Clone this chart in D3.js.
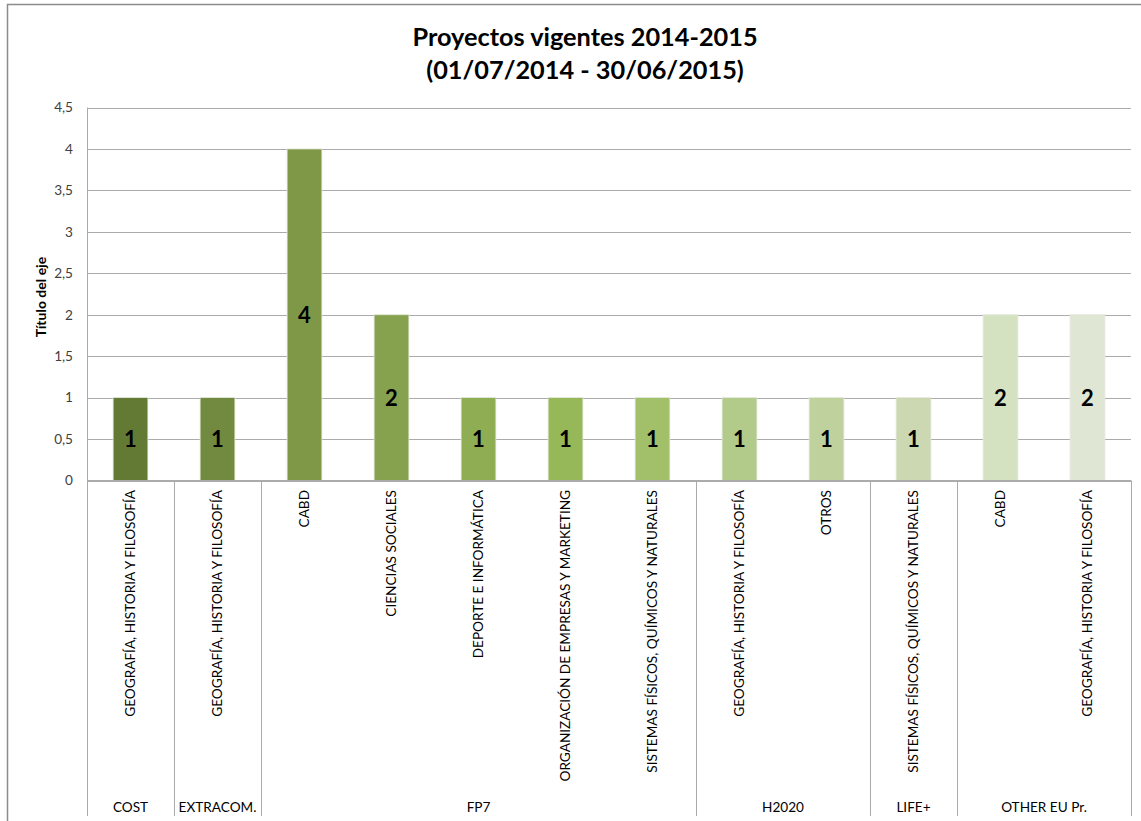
<!DOCTYPE html>
<html>
<head>
<meta charset="utf-8">
<script src="https://cdn.jsdelivr.net/npm/d3@7"></script>
<style>
  html, body { margin: 0; padding: 0; background: #fff; }
  svg { display: block; font-family: Lato, "Open Sans", sans-serif; }
</style>
</head>
<body>
<svg id="chart" width="1141" height="821"></svg>
<script>
const titleLines = ["Proyectos vigentes 2014-2015", "(01/07/2014 - 30/06/2015)"];
const yAxisTitle = "Título del eje";
const groups = ["COST", "EXTRACOM.", "FP7", "FP7", "FP7", "FP7", "FP7", "H2020", "H2020", "LIFE+", "OTHER EU Pr.", "OTHER EU Pr."];
const labels = [
  "GEOGRAFÍA, HISTORIA Y FILOSOFÍA",
  "GEOGRAFÍA, HISTORIA Y FILOSOFÍA",
  "CABD",
  "CIENCIAS SOCIALES",
  "DEPORTE E INFORMÁTICA",
  "ORGANIZACIÓN DE EMPRESAS Y MARKETING",
  "SISTEMAS FÍSICOS, QUÍMICOS Y NATURALES",
  "GEOGRAFÍA, HISTORIA Y FILOSOFÍA",
  "OTROS",
  "SISTEMAS FÍSICOS, QUÍMICOS Y NATURALES",
  "CABD",
  "GEOGRAFÍA, HISTORIA Y FILOSOFÍA"
];
const values = [1, 1, 4, 2, 1, 1, 1, 1, 1, 1, 2, 2];
const barColors = ["#637a35", "#718a3f", "#7e9847", "#87a24f", "#8fad53", "#97b858",
                   "#a2c06a", "#b2ca8a", "#bfd29e", "#cbd8b1", "#d5e2c2", "#dfe6d3"];
const yTicks = [0, 0.5, 1, 1.5, 2, 2.5, 3, 3.5, 4, 4.5];

const svg = d3.select("#chart");
const plot = { left: 87, right: 1131, top: 107.5, bottom: 480.5, axisBottom: 816 };
const gridColor = "#ababab";
const smallFont = 13.6;

// outer border
svg.append("rect").attr("x", 7.5).attr("y", 4.5).attr("width", 1140).attr("height", 820)
  .attr("fill", "#fff").attr("stroke", "#8c8c8c").attr("stroke-width", 1.5);

const idx = d3.range(values.length);
const x = d3.scaleBand().domain(idx).range([plot.left, plot.right]).paddingInner(0.6).paddingOuter(0.3);
const y = d3.scaleLinear().domain([0, 4.5]).range([plot.bottom, plot.top]);
const step = x.step();

// gridlines
svg.append("g").selectAll("line").data(yTicks).join("line")
  .attr("x1", plot.left).attr("x2", plot.right)
  .attr("y1", d => Math.round(y(d)) + 0.5).attr("y2", d => Math.round(y(d)) + 0.5)
  .attr("stroke", gridColor).attr("stroke-width", 1);

// y axis via d3.axisLeft
const yAxis = d3.axisLeft(y).tickValues(yTicks).tickSize(0).tickPadding(14)
  .tickFormat(d => d3.format("")(d).replace(".", ","));
const yg = svg.append("g").attr("transform", `translate(${plot.left},0)`).call(yAxis);
yg.select(".domain").remove();
yg.selectAll("text").attr("font-family", "Lato, sans-serif").attr("font-size", smallFont).attr("fill", "#404040");

// y axis line
svg.append("line").attr("x1", plot.left + 0.5).attr("x2", plot.left + 0.5)
  .attr("y1", plot.top).attr("y2", plot.axisBottom).attr("stroke", gridColor);

// bars
svg.append("g").selectAll("rect").data(idx).join("rect")
  .attr("x", i => x(i)).attr("width", x.bandwidth())
  .attr("y", i => y(values[i])).attr("height", i => y(0) - y(values[i]))
  .attr("fill", i => barColors[i])
  .attr("stroke", "#e4e8dc").attr("stroke-width", 0.8);

// data labels
svg.append("g").selectAll("text").data(idx).join("text")
  .attr("x", i => x(i) + x.bandwidth() / 2)
  .attr("y", i => y(values[i] / 2))
  .attr("dy", "0.36em")
  .attr("text-anchor", "middle")
  .attr("font-size", 22).attr("font-weight", "bold").attr("fill", "#000")
  .text(i => values[i]);

// category axis baseline
svg.append("line").attr("x1", plot.left).attr("x2", plot.right)
  .attr("y1", plot.bottom).attr("y2", plot.bottom).attr("stroke", gridColor);

// group spans
const groupSpans = [];
idx.forEach(i => {
  const last = groupSpans[groupSpans.length - 1];
  if (last && last.name === groups[i]) last.end = i;
  else groupSpans.push({ name: groups[i], start: i, end: i });
});
const groupLeft = g => x(g.start) - (step - x.bandwidth()) / 2;
const groupRight = g => x(g.end) + x.bandwidth() + (step - x.bandwidth()) / 2;

// separators
const seps = [groupLeft(groupSpans[0])].concat(groupSpans.map(groupRight));
svg.append("g").selectAll("line").data(seps).join("line")
  .attr("x1", d => Math.round(d) + 0.5).attr("x2", d => Math.round(d) + 0.5)
  .attr("y1", plot.bottom).attr("y2", plot.axisBottom)
  .attr("stroke", gridColor);

// category labels (rotated)
svg.append("g").selectAll("text").data(idx).join("text")
  .attr("transform", i => `translate(${x(i) + x.bandwidth() / 2},490) rotate(-90)`)
  .attr("dy", "0.35em")
  .attr("text-anchor", "end")
  .attr("font-size", smallFont).attr("fill", "#000")
  .text(i => labels[i]);

// group labels
svg.append("g").selectAll("text").data(groupSpans).join("text")
  .attr("x", g => (groupLeft(g) + groupRight(g)) / 2)
  .attr("y", 812)
  .attr("text-anchor", "middle")
  .attr("font-size", smallFont).attr("fill", "#000")
  .text(g => g.name);

// y axis title
svg.append("text")
  .attr("transform", "translate(46,297) rotate(-90)")
  .attr("text-anchor", "middle")
  .attr("font-size", 14).attr("font-weight", "bold").attr("fill", "#000")
  .text(yAxisTitle);

// title
svg.append("g").selectAll("text").data(titleLines).join("text")
  .attr("x", 585).attr("y", (d, i) => 46 + i * 33)
  .attr("text-anchor", "middle")
  .attr("font-size", 25.3).attr("font-weight", "bold").attr("fill", "#000")
  .text(d => d);
</script>
</body>
</html>
